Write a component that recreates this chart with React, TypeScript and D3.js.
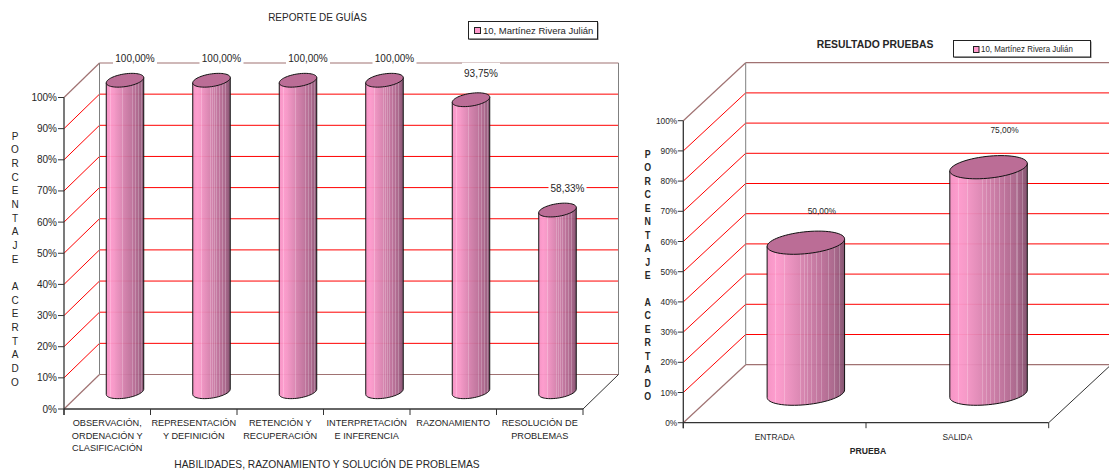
import React from "react";
import * as d3 from "d3";

// Study guide results
const guideCategories = [
  ["OBSERVACIÓN,", "ORDENACIÓN Y", "CLASIFICACIÓN"],
  ["REPRESENTACIÓN", "Y DEFINICIÓN"],
  ["RETENCIÓN Y", "RECUPERACIÓN"],
  ["INTERPRETACIÓN", "E INFERENCIA"],
  ["RAZONAMIENTO"],
  ["RESOLUCIÓN DE", "PROBLEMAS"],
];
const guideValues = [100, 100, 100, 100, 93.75, 58.33];
const guideLabels = ["100,00%", "100,00%", "100,00%", "100,00%", "93,75%", "58,33%"];

// Entry and exit tests
const testCategories = [["ENTRADA"], ["SALIDA"]];
const testValues = [50, 75];
const testLabels = ["50,00%", "75,00%"];

const seriesName = "10, Martínez Rivera Julián";
const axisLetters = "PORCENTAJE ACERTADO".split("");
const FONT = "'Liberation Sans', Arial, sans-serif";
const INK = "#262626";

// Shading across a cylinder, with the pale facets laid on top
const shadeStops: [number, string][] = [
  [0, "#F58FC2"], [0.14, "#FF9ACD"], [0.3, "#E88DBB"], [0.5, "#D07CA8"],
  [0.72, "#B96C95"], [0.9, "#A25F84"], [1, "#7E4C69"],
];
const facetOffsets = [0.1, 0.22, 0.42, 0.47, 0.52, 0.57, 0.63, 0.7, 0.78, 0.86, 0.93];

function facetedStops() {
  const shade = d3.scaleLinear<string>()
    .domain(shadeStops.map((d) => d[0]))
    .range(shadeStops.map((d) => d[1]));
  const stops: { o: number; c: string }[] = [];
  let from = 0;
  facetOffsets.forEach((f) => {
    stops.push({ o: from, c: shade(from) }, { o: f, c: shade(f) });
    const pale = d3.interpolateRgb(shade(f), "#ffffff")(0.22);
    stops.push({ o: f, c: pale }, { o: f + 0.014, c: pale });
    from = f + 0.014;
  });
  stops.push({ o: from, c: shade(from) }, { o: 1, c: shade(1) });
  return stops;
}

type Layout = {
  id: string;
  categories: string[][];
  values: number[];
  labels: string[];
  x0: number; x1: number; y0: number; y100: number; depthX: number; depthY: number;
  barFill: number; floorFill: number;
  tickSize: number; tickGap: number; squeeze: number; fontSize: number; catFont: number;
  labelDx: number; labelLift: number[]; labelBox: boolean;
  catY: number; catLine: number;
  xTitle: string; xTitleX: number; xTitleY: number; xTitleFont: number;
  title: string; titleX: number; titleY: number; titleFont: number;
  bold: boolean;
  letterX: number; letterY: number; letterStep: number; letterFont: number;
  legend: { x: number; y: number; w: number; h: number; sx: number; sy: number; ss: number; sh: number; tx: number; font: number };
};

function Label(props: {
  x: number; y: number; text: string; size: number; squeeze: number;
  anchor?: string; weight?: string; fill?: string;
}) {
  const { x, y, text, size, squeeze, anchor = "middle", weight = "normal", fill = INK } = props;
  return (
    <text
      transform={`translate(${x},${y}) scale(${squeeze},1)`}
      fontFamily={FONT}
      fontSize={size}
      fontWeight={weight}
      fill={fill}
      textAnchor={anchor}
      dominantBaseline="central"
    >
      {text}
    </text>
  );
}

function Chart({ c }: { c: Layout }) {
  const y = d3.scaleLinear().domain([0, 100]).range([c.y0, c.y100]);
  const x = d3.scaleBand<number>()
    .domain(d3.range(c.values.length))
    .range([c.x0, c.x1]);
  const band = x.bandwidth();
  const xEnd = Math.min(c.x1 + c.depthX, 1109);
  const dx = c.depthX;
  const dy = c.depthY;
  const ticks = y.ticks(10);

  // Ellipse of a cylinder cap, lying in the floor plane of the box
  const halfW = (band * c.barFill) / 2;
  const depthHalf = c.floorFill / 2;
  const bx = dx * depthHalf;
  const by = Math.abs(dy) * depthHalf;
  const ax = Math.sqrt(Math.max(halfW * halfW - bx * bx, 1));
  const skew = (by * bx) / halfW; // drop of the left extreme, rise of the right one
  const start = Math.atan2(bx, ax);
  const ring = d3.line<number>()
    .x((t) => ax * Math.cos(t) + bx * Math.sin(t))
    .y((t) => -by * Math.sin(t));
  const capPath = ring(d3.range(0, 64).map((i) => (i / 64) * Math.PI * 2))! + "Z";
  // lower half, running from the left extreme to the right one
  const lowerHalf = d3.range(0, 33).map((i) => Math.PI + start + (i / 32) * Math.PI);
  const lowerPts = lowerHalf.map((t) => [
    ax * Math.cos(t) + bx * Math.sin(t),
    -by * Math.sin(t),
  ]);

  const gridColor = "#FF0000";
  const edge = "#808080";
  const rimColor = "#A07272";

  return (
    <g>
      <defs>
        <linearGradient id={`shade-${c.id}`} x1="0" x2="1" y1="0" y2="0">
          {facetedStops().map((s, i) => (
            <stop key={i} offset={s.o} stopColor={s.c} />
          ))}
        </linearGradient>
      </defs>

      {/* back and side walls */}
      {ticks.slice(1, -1).map((t) => (
        <g key={t} stroke={gridColor} strokeWidth={1} fill="none">
          <line x1={c.x0} y1={y(t)} x2={c.x0 + dx} y2={y(t) + dy} />
          <line x1={c.x0 + dx} y1={y(t) + dy} x2={xEnd} y2={y(t) + dy} />
        </g>
      ))}
      {[0, 100].map((t) => (
        <g key={t} stroke={rimColor} strokeWidth={1.2} fill="none">
          <line x1={c.x0} y1={y(t)} x2={c.x0 + dx} y2={y(t) + dy} />
          <line x1={c.x0 + dx} y1={y(t) + dy} x2={xEnd} y2={y(t) + dy} />
        </g>
      ))}
      <line x1={c.x0 + dx} y1={y(100) + dy} x2={c.x0 + dx} y2={y(0) + dy} stroke={edge} strokeWidth={1} />
      {c.x1 + dx <= 1109 && (
        <line x1={c.x1 + dx} y1={y(100) + dy} x2={c.x1 + dx} y2={y(0) + dy} stroke={edge} strokeWidth={1} />
      )}
      <line x1={c.x1} y1={y(0)} x2={c.x1 + dx} y2={y(0) + dy} stroke="#1a1a1a" strokeWidth={0.9} />

      {/* value labels, boxed on the chart that masks its grid */}
      {c.values.map((v, i) => {
        const cx = x(i)! + band / 2 + dx / 2;
        const top = y(v) + dy / 2;
        const lx = cx + c.labelDx;
        const ly = top - c.labelLift[i];
        const boxW = v < 100 ? 38 : 44;
        return (
          <g key={i}>
            {c.labelBox && <rect x={lx - boxW / 2} y={ly - 11} width={boxW} height={22} fill="#fff" />}
            <Label x={lx} y={ly} text={c.labels[i]} size={c.fontSize} squeeze={c.squeeze} />
          </g>
        );
      })}

      {/* cylinders */}
      {c.values.map((v, i) => {
        const cx = x(i)! + band / 2 + dx / 2;
        const top = y(v) + dy / 2;
        const bottom = y(0) + dy / 2;
        const side = d3.path();
        side.moveTo(cx - halfW, top + skew);
        side.lineTo(cx - halfW, bottom + skew);
        lowerPts.forEach((p) => side.lineTo(cx + p[0], bottom + p[1]));
        side.lineTo(cx + halfW, top - skew);
        side.closePath();
        return (
          <g key={i}>
            <path d={side.toString()} fill={`url(#shade-${c.id})`} fillOpacity={0.95} stroke="#111" strokeWidth={1} />
            <path d={capPath} transform={`translate(${cx},${top})`} fill="#BB6D96" stroke="#111" strokeWidth={1} />
          </g>
        );
      })}

      {/* front axes */}
      <g stroke="#333" strokeWidth={1.3} fill="none">
        <line x1={c.x0} y1={y(100)} x2={c.x0} y2={y(0) + c.tickSize} />
        <line x1={c.x0} y1={y(0)} x2={c.x1} y2={y(0)} />
        {ticks.map((t) => (
          <line key={t} x1={c.x0 - c.tickSize} y1={y(t)} x2={c.x0} y2={y(t)} strokeWidth={1} />
        ))}
        {d3.range(c.values.length + 1).map((i) => (
          <line key={i} x1={c.x0 + band * i} y1={y(0)} x2={c.x0 + band * i} y2={y(0) + c.tickSize} strokeWidth={1} />
        ))}
      </g>
      {ticks.map((t) => (
        <Label key={t} x={c.x0 - c.tickGap} y={y(t)} text={`${t}%`} size={c.fontSize} squeeze={c.squeeze} anchor="end" />
      ))}

      {/* category names */}
      {c.categories.map((lines, i) =>
        lines.map((line, j) => (
          <Label
            key={line}
            x={x(i)! + band / 2}
            y={c.catY + j * c.catLine}
            text={line}
            size={c.catFont}
            squeeze={c.squeeze}
          />
        ))
      )}

      {/* titles */}
      <Label x={c.titleX} y={c.titleY} text={c.title} size={c.titleFont} squeeze={c.squeeze} weight={c.bold ? "bold" : "normal"} />
      <Label x={c.xTitleX} y={c.xTitleY} text={c.xTitle} size={c.xTitleFont} squeeze={c.squeeze} weight={c.bold ? "bold" : "normal"} />
      {axisLetters.map((ch, i) => (
        <Label
          key={i}
          x={c.letterX}
          y={c.letterY + i * c.letterStep}
          text={ch}
          size={c.letterFont}
          squeeze={c.squeeze}
          weight={c.bold ? "bold" : "normal"}
        />
      ))}

      {/* legend */}
      <rect x={c.legend.x + 1} y={c.legend.y + 1} width={c.legend.w} height={c.legend.h} fill="#777" />
      <rect x={c.legend.x} y={c.legend.y} width={c.legend.w} height={c.legend.h} fill="#fff" stroke="#222" strokeWidth={1} />
      <rect x={c.legend.sx} y={c.legend.sy} width={c.legend.ss} height={c.legend.sh} fill="#FF99CC" stroke="#222" strokeWidth={1} />
      <Label
        x={c.legend.tx}
        y={c.legend.y + c.legend.h / 2}
        text={seriesName}
        size={c.legend.font}
        squeeze={c.squeeze}
        anchor="start"
      />
    </g>
  );
}

const guideLayout: Layout = {
  id: "guias",
  categories: guideCategories,
  values: guideValues,
  labels: guideLabels,
  x0: 64, x1: 583, y0: 409, y100: 97.5, depthX: 35.5, depthY: -34.5,
  barFill: 0.4335, floorFill: 0.4,
  tickSize: 6, tickGap: 7, squeeze: 1, fontSize: 10, catFont: 9.2,
  labelDx: 10, labelLift: [22, 22, 22, 22, 26, 22], labelBox: true,
  catY: 423.3, catLine: 12.5,
  xTitle: "HABILIDADES, RAZONAMIENTO Y SOLUCIÓN DE PROBLEMAS",
  xTitleX: 327, xTitleY: 464, xTitleFont: 10.25,
  title: "REPORTE DE GUÍAS", titleX: 317.5, titleY: 17, titleFont: 10,
  bold: false,
  letterX: 15, letterY: 136, letterStep: 13.67, letterFont: 10,
  legend: { x: 468.5, y: 21.5, w: 129, h: 17.5, sx: 474.5, sy: 27.5, ss: 6, sh: 6, tx: 483, font: 9.5 },
};

const testLayout: Layout = {
  id: "pruebas",
  categories: testCategories,
  values: testValues,
  labels: testLabels,
  x0: 683.3, x1: 1048.7, y0: 422.7, y100: 120.7, depthX: 62.4, depthY: -58,
  barFill: 0.424, floorFill: 0.4,
  tickSize: 5.5, tickGap: 6, squeeze: 0.88, fontSize: 9.5, catFont: 9.5,
  labelDx: 16, labelLift: [32, 37], labelBox: false,
  catY: 437.3, catLine: 12,
  xTitle: "PRUEBA",
  xTitleX: 868, xTitleY: 451.3, xTitleFont: 9.8,
  title: "RESULTADO PRUEBAS", titleX: 875, titleY: 43.7, titleFont: 11.8,
  bold: true,
  letterX: 647.7, letterY: 154.3, letterStep: 13.45, letterFont: 10,
  legend: { x: 953.5, y: 40.5, w: 137, h: 16.5, sx: 973.5, sy: 46.5, ss: 5.5, sh: 6, tx: 981, font: 9 },
};

export default function App() {
  return (
    <svg
      width={1109}
      height={471}
      viewBox="0 0 1109 471"
      style={{ position: "absolute", left: 0, top: 0, background: "#fff", display: "block" }}
    >
      <Chart c={guideLayout} />
      <Chart c={testLayout} />
    </svg>
  );
}
